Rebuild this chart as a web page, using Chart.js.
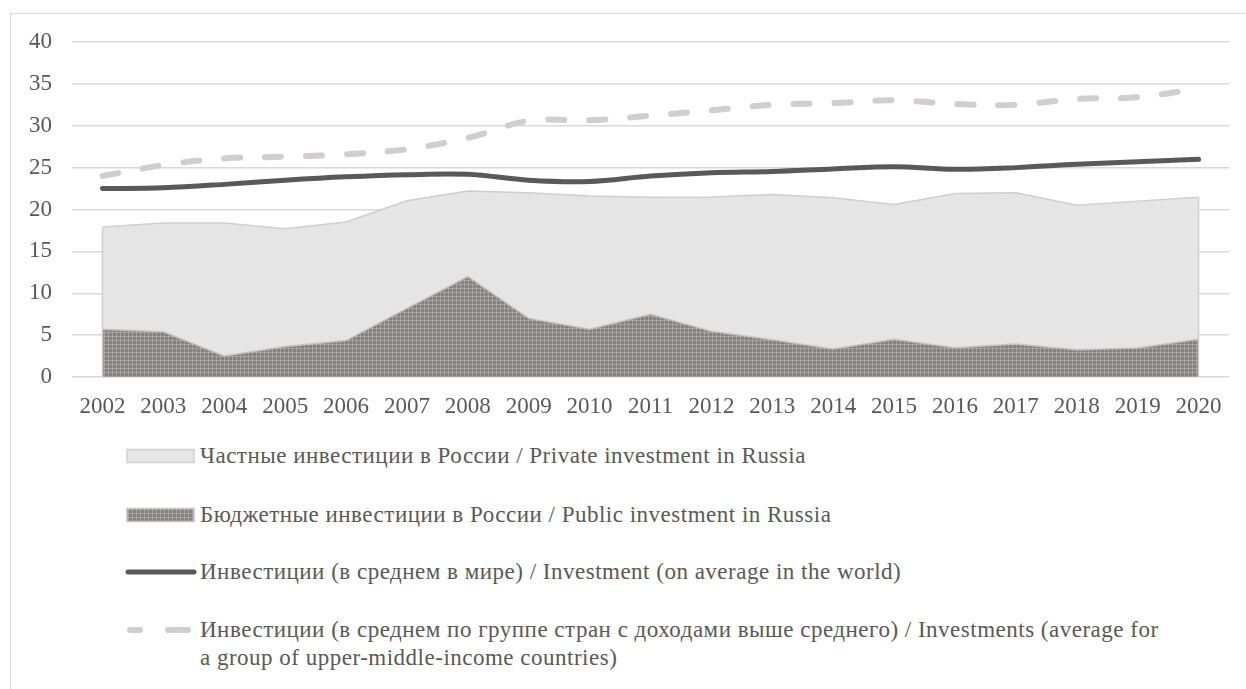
<!DOCTYPE html>
<html><head><meta charset="utf-8">
<script src="https://cdn.jsdelivr.net/npm/chart.js@4"></script>
<style>
html,body{margin:0;padding:0;background:#fff;width:1246px;height:689px;overflow:hidden;position:relative;}
#frame{position:absolute;left:10px;top:13px;width:1240px;height:700px;border:1px solid #d9d9d9;box-sizing:border-box;}
#c{position:absolute;left:0;top:0;}
.leg{position:absolute;left:0;width:1246px;height:60px;font-family:"Liberation Serif",Tinos,"Times New Roman","DejaVu Serif",serif;font-size:23px;letter-spacing:0.5px;color:#595959;line-height:28px;}
.leg canvas{position:absolute;left:120px;top:4px;}
.leg span{position:absolute;left:200px;top:0;width:965px;}
</style></head><body>
<div id="frame"></div>
<canvas id="c" width="1246" height="430"></canvas>
<div id="legend"></div>
<script>
const years = ['2002','2003','2004','2005','2006','2007','2008','2009','2010','2011','2012','2013','2014','2015','2016','2017','2018','2019','2020'];
const publicInv = [5.7,5.4,2.5,3.65,4.35,8.2,12.0,7.0,5.7,7.5,5.45,4.45,3.35,4.5,3.5,3.95,3.25,3.45,4.5];
const privateInv = [12.2,13.0,15.9,14.05,14.15,12.85,10.2,15.0,15.9,13.95,16.05,17.35,18.05,16.1,18.4,18.05,17.25,17.55,16.95];
const worldAvg = [22.5,22.6,23.0,23.5,23.9,24.15,24.2,23.5,23.35,24.0,24.4,24.55,24.85,25.1,24.8,25.0,25.4,25.7,26.0];
const upperMiddleAvg = [24.0,25.3,26.1,26.3,26.6,27.2,28.55,30.6,30.65,31.2,31.85,32.5,32.7,33.05,32.6,32.5,33.2,33.4,34.45];
const labels = {
  privateInv: 'Частные инвестиции в России / Private investment in Russia',
  publicInv: 'Бюджетные инвестиции в России / Public investment in Russia',
  worldAvg: 'Инвестиции (в среднем в мире) / Investment (on average in the world)',
  upperMiddleAvg: 'Инвестиции (в среднем по группе стран с доходами выше среднего) / Investments (average for a group of upper-middle-income countries)'
};

function makePattern(kind){
  const p = document.createElement('canvas');
  const ctx = p.getContext('2d');
  if(kind==='dark'){
    p.width=4;p.height=4;
    ctx.fillStyle='#878282';ctx.fillRect(0,0,4,4);
    ctx.fillStyle='#a29e9e';ctx.fillRect(0,0,4,1);ctx.fillRect(0,0,1,4);
    ctx.fillStyle='#b8b4b4';ctx.fillRect(0,0,1,1);
  } else {
    p.width=4;p.height=4;
    ctx.fillStyle='#e6e6e6';ctx.fillRect(0,0,4,4);
    ctx.fillStyle='#e0e0e0';ctx.fillRect(0,0,1,1);ctx.fillRect(2,2,1,1);
  }
  return ctx.createPattern(p,'repeat');
}
const ctxMain = document.getElementById('c').getContext('2d');
const darkPat = makePattern('dark');
const lightPat = makePattern('light');
const FONT = '"Liberation Serif", Tinos, "Times New Roman", "DejaVu Serif", serif';

const areaEdges = {
  id:'areaEdges',
  afterDatasetsDraw(chart){
    const meta = chart.getDatasetMeta(1);
    const y0 = chart.scales.y.getPixelForValue(0);
    const ctx = chart.ctx;
    ctx.save();
    ctx.strokeStyle='#cfcfcf'; ctx.lineWidth=1.5;
    [0, meta.data.length-1].forEach(i=>{
      const pt = meta.data[i];
      ctx.beginPath(); ctx.moveTo(pt.x, pt.y); ctx.lineTo(pt.x, y0); ctx.stroke();
    });
    ctx.restore();
  }
};

const chart = new Chart(ctxMain, {
  type:'line',
  data:{
    labels: years,
    datasets:[
      {label:labels.publicInv, data:publicInv, stack:'ru', order:2, fill:'origin', backgroundColor:darkPat, borderColor:'#c6c3c3', borderWidth:1.5, pointRadius:0, tension:0},
      {label:labels.privateInv, data:privateInv, stack:'ru', order:3, fill:'-1', backgroundColor:lightPat, borderColor:'#cfcfcf', borderWidth:1.5, pointRadius:0, tension:0},
      {label:labels.worldAvg, data:worldAvg, stack:'w', order:0, fill:false, borderColor:'#595959', borderWidth:5, pointRadius:0, tension:0.35, borderCapStyle:'round', borderJoinStyle:'round'},
      {label:labels.upperMiddleAvg, data:upperMiddleAvg, stack:'u', order:1, fill:false, borderColor:'#d0cece', borderWidth:6, pointRadius:0, tension:0.35, borderDash:[16,25], borderCapStyle:'round'}
    ]
  },
  options:{
    responsive:false, animation:false, devicePixelRatio:1,
    layout:{padding:{left:10,right:17,top:42,bottom:0}},
    plugins:{legend:{display:false}, tooltip:{enabled:false}},
    scales:{
      x:{offset:true, grid:{display:false, drawTicks:false}, border:{display:false},
         ticks:{color:'#595959', font:{family:FONT,size:23}, padding:16, maxRotation:0, autoSkip:false},
         afterFit:(s)=>{s.height=53;}},
      y:{stacked:true, min:0, max:40, border:{display:false},
         grid:{color:'#d9d9d9', lineWidth:1.5, drawTicks:false},
         ticks:{stepSize:5, color:'#595959', font:{family:FONT,size:23}, padding:20},
         afterFit:(s)=>{s.width=62;}}
    }
  },
  plugins:[areaEdges]
});

// HTML legend
const legendDefs = [
  {key:'privateInv', top:442, type:'light'},
  {key:'publicInv', top:501, type:'dark'},
  {key:'worldAvg', top:558, type:'line'},
  {key:'upperMiddleAvg', top:616, type:'dash'}
];
const legEl = document.getElementById('legend');
legendDefs.forEach(d=>{
  const row = document.createElement('div');
  row.className='leg'; row.style.top=d.top+'px';
  const cv = document.createElement('canvas'); cv.width=80; cv.height=20;
  const c = cv.getContext('2d');
  if(d.type==='light' || d.type==='dark'){
    c.fillStyle = d.type==='light'? makePattern('light') : makePattern('dark');
    c.fillRect(7,3.5,67,13);
    c.strokeStyle = d.type==='light' ? '#cfcfcf' : '#c6c3c3';
    c.lineWidth=1.5; c.strokeRect(7,3.5,67,13);
  } else if(d.type==='line'){
    c.strokeStyle='#595959'; c.lineWidth=5; c.lineCap='round';
    c.beginPath(); c.moveTo(8,10); c.lineTo(74,10); c.stroke();
  } else {
    c.strokeStyle='#d0cece'; c.lineWidth=6; c.lineCap='round';
    c.beginPath(); c.moveTo(10,10); c.lineTo(20,10); c.stroke();
    c.beginPath(); c.moveTo(48,10); c.lineTo(68,10); c.stroke();
  }
  const sp = document.createElement('span'); sp.textContent = labels[d.key];
  row.appendChild(cv); row.appendChild(sp);
  legEl.appendChild(row);
});
</script>
</body></html>
